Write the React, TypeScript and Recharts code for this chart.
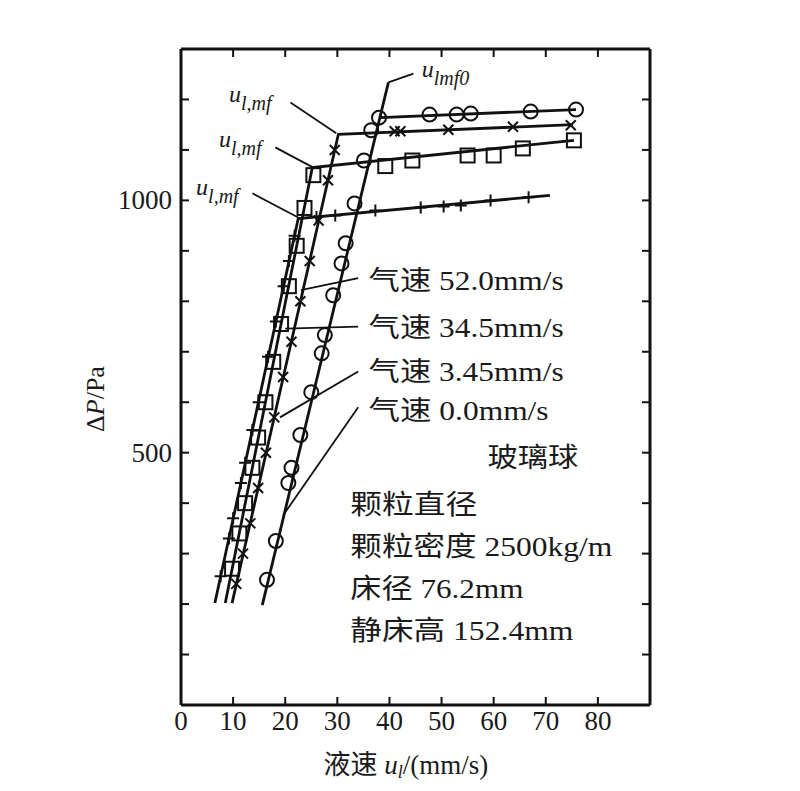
import { ComposedChart, Line, Scatter, XAxis, YAxis, ReferenceLine } from 'recharts';

const FONT = '"Liberation Serif", "Noto Sans CJK SC", serif';
const INK = '#111';

// axes: liquid velocity u_l (mm/s) vs bed pressure drop ΔP (Pa)
const xTicks = [0, 10, 20, 30, 40, 50, 60, 70, 80, 90];
const xTickLabels = ['0', '10', '20', '30', '40', '50', '60', '70', '80', ''];
const yTicks = [0, 100, 200, 300, 400, 500, 600, 700, 800, 900, 1000, 1100, 1200, 1300];
const yTickLabels = ['', '', '', '', '', '500', '', '', '', '', '1000', '', '', ''];

// fitted lines, one per gas velocity
const lineGas52 = [{ x: 6.5, y: 202 }, { x: 22.5, y: 964 }, { x: 70.8, y: 1010 }];
const lineGas34 = [{ x: 8.5, y: 202 }, { x: 25.2, y: 1065 }, { x: 75.4, y: 1119 }];
const lineGas3 = [{ x: 9.8, y: 202 }, { x: 30.2, y: 1131 }, { x: 75.2, y: 1150 }];
const lineGas0Packed = [{ x: 15.6, y: 198 }, { x: 39.8, y: 1234 }];
const lineGas0Fluid = [{ x: 38.2, y: 1164 }, { x: 75.8, y: 1180 }];

// measured points
const ptsGas52 = [
  { x: 7.6, y: 255 }, { x: 9.2, y: 330 }, { x: 10.0, y: 370 }, { x: 11.5, y: 440 },
  { x: 12.3, y: 480 }, { x: 13.7, y: 545 }, { x: 14.9, y: 600 }, { x: 16.7, y: 690 },
  { x: 18.2, y: 760 }, { x: 19.7, y: 830 }, { x: 20.7, y: 880 }, { x: 21.8, y: 930 },
  { x: 26.0, y: 967 }, { x: 29.6, y: 970 }, { x: 37.3, y: 980 }, { x: 46.0, y: 986 },
  { x: 50.4, y: 988 }, { x: 53.7, y: 990 }, { x: 59.4, y: 1000 }, { x: 66.7, y: 1006 },
];
const ptsGas34 = [
  { x: 9.8, y: 270 }, { x: 11.2, y: 340 }, { x: 12.3, y: 400 }, { x: 13.7, y: 470 },
  { x: 14.8, y: 530 }, { x: 16.2, y: 600 }, { x: 17.7, y: 680 }, { x: 19.2, y: 755 },
  { x: 20.7, y: 830 }, { x: 22.2, y: 910 }, { x: 23.7, y: 985 }, { x: 25.4, y: 1050 },
  { x: 39.2, y: 1068 }, { x: 44.4, y: 1079 }, { x: 55.0, y: 1089 }, { x: 60.0, y: 1089 },
  { x: 65.6, y: 1103 }, { x: 75.4, y: 1119 },
];
const ptsGas3 = [
  { x: 10.6, y: 240 }, { x: 11.9, y: 300 }, { x: 13.3, y: 360 }, { x: 14.8, y: 430 },
  { x: 16.3, y: 500 }, { x: 17.9, y: 570 }, { x: 19.6, y: 650 }, { x: 21.2, y: 720 },
  { x: 22.9, y: 800 }, { x: 24.7, y: 880 }, { x: 26.4, y: 960 }, { x: 28.2, y: 1040 },
  { x: 29.5, y: 1100 }, { x: 41.0, y: 1137 }, { x: 42.1, y: 1137 }, { x: 51.3, y: 1140 },
  { x: 63.7, y: 1146 }, { x: 74.8, y: 1149 },
];
const ptsGas0 = [
  { x: 16.5, y: 248 }, { x: 18.2, y: 325 }, { x: 20.6, y: 440 }, { x: 21.2, y: 470 },
  { x: 22.9, y: 535 }, { x: 25.0, y: 620 }, { x: 27.0, y: 697 }, { x: 27.6, y: 733 },
  { x: 29.2, y: 812 }, { x: 30.8, y: 875 }, { x: 31.6, y: 915 }, { x: 33.3, y: 994 },
  { x: 35.1, y: 1079 }, { x: 36.5, y: 1139 }, { x: 38.0, y: 1164 }, { x: 47.7, y: 1170 },
  { x: 52.9, y: 1170 }, { x: 55.6, y: 1172 }, { x: 67.1, y: 1176 }, { x: 75.8, y: 1180 },
];

// leader lines for the annotations
const leaders = [
  [{ x: 21.0, y: 1194 }, { x: 29.8, y: 1133 }],
  [{ x: 18.1, y: 1105 }, { x: 25.4, y: 1065 }],
  [{ x: 13.7, y: 1014 }, { x: 22.5, y: 966 }],
  [{ x: 44.6, y: 1251 }, { x: 39.8, y: 1234 }],
  [{ x: 34.0, y: 846 }, { x: 23.0, y: 822 }],
  [{ x: 34.0, y: 750 }, { x: 20.0, y: 746 }],
  [{ x: 34.0, y: 661 }, { x: 19.0, y: 570 }],
  [{ x: 34.0, y: 590 }, { x: 19.6, y: 376 }],
];

const mfSubs = ['l,mf', 'l,mf', 'l,mf', 'lmf0'];
const mfX = [9.2, 7.3, 2.9, 46.2];
const mfY = [1194, 1105, 1010, 1244];

const noteText = [
  '气速 52.0mm/s', '气速 34.5mm/s', '气速 3.45mm/s', '气速 0.0mm/s', '玻璃球',
  '颗粒直径', '颗粒密度 2500kg/m', '床径 76.2mm', '静床高 152.4mm',
];
const noteX = [36.0, 36.0, 36.0, 36.0, 58.8, 32.5, 32.5, 32.5, 32.5];
const noteY = [840, 748, 659, 582, 489, 396, 313, 230, 147];
const noteWidth = [195, 195, 195, 180, 91, 127, 262, 173, 223];

const notes = noteText.map((text, i) => ({ x: noteX[i], y: noteY[i], text, w: noteWidth[i] }));
const mfLabels = mfSubs.map((sub, i) => ({ x: mfX[i], y: mfY[i], sub }));

function Circle(p: any) {
  return <circle cx={p.cx} cy={p.cy} r={7} fill="none" stroke={INK} strokeWidth={2} />;
}
function Square(p: any) {
  return <rect x={p.cx - 7} y={p.cy - 7} width={14} height={14} fill="none" stroke={INK} strokeWidth={2} />;
}
function Plus(p: any) {
  return (
    <path d={`M${p.cx - 6},${p.cy}H${p.cx + 6}M${p.cx},${p.cy - 6}V${p.cy + 6}`} stroke={INK} strokeWidth={2} />
  );
}
function Cross(p: any) {
  return (
    <path
      d={`M${p.cx - 5},${p.cy - 5}L${p.cx + 5},${p.cy + 5}M${p.cx - 5},${p.cy + 5}L${p.cx + 5},${p.cy - 5}`}
      stroke={INK}
      strokeWidth={2}
    />
  );
}

function NoteText(p: any) {
  return (
    <text
      x={p.cx}
      y={p.cy}
      dominantBaseline="central"
      fontFamily={FONT}
      fontSize={27}
      fill="#1a1a1a"
      textLength={p.payload.w}
      lengthAdjust="spacingAndGlyphs"
    >
      {p.payload.text}
    </text>
  );
}

function MfText(p: any) {
  return (
    <text x={p.cx} y={p.cy} fontFamily={FONT} fontSize={24} fontStyle="italic" fill="#1a1a1a">
      u
      <tspan dy={8} fontSize={20}>{p.payload.sub}</tspan>
    </text>
  );
}

function BottomTick(p: any) {
  const label = xTickLabels[xTicks.indexOf(p.payload.value)];
  return (
    <g>
      <line x1={p.x} y1={p.y} x2={p.x} y2={p.y - 8} stroke={INK} strokeWidth={2} />
      <text x={p.x} y={p.y + 16} textAnchor="middle" dominantBaseline="central" fontFamily={FONT} fontSize={27} fill="#1a1a1a">
        {label}
      </text>
    </g>
  );
}
function TopTick(p: any) {
  return <line x1={p.x} y1={p.y} x2={p.x} y2={p.y + 8} stroke={INK} strokeWidth={2} />;
}
function LeftTick(p: any) {
  const label = yTickLabels[yTicks.indexOf(p.payload.value)];
  return (
    <g>
      <line x1={p.x} y1={p.y} x2={p.x + 8} y2={p.y} stroke={INK} strokeWidth={2} />
      <text x={p.x - 9} y={p.y} textAnchor="end" dominantBaseline="central" fontFamily={FONT} fontSize={27} fill="#1a1a1a">
        {label}
      </text>
    </g>
  );
}
function RightTick(p: any) {
  return <line x1={p.x} y1={p.y} x2={p.x - 8} y2={p.y} stroke={INK} strokeWidth={2} />;
}

function YTitle(p: any) {
  const vb = p.viewBox || { x: 0, y: 41, width: 173, height: 656 };
  const cx = vb.x + vb.width - 86;
  const cy = vb.y + vb.height / 2 + 22;
  return (
    <text
      x={cx}
      y={cy}
      transform={`rotate(-90 ${cx} ${cy})`}
      textAnchor="middle"
      dominantBaseline="central"
      fontFamily={FONT}
      fontSize={26}
      fill="#1a1a1a"
    >
      Δ<tspan fontStyle="italic">P</tspan>/Pa
    </text>
  );
}

function XTitle(p: any) {
  const vb = p.viewBox || { x: 173, y: 697, width: 469, height: 78 };
  const left = vb.x + vb.width / 2 - 92;
  const cy = vb.y + 60;
  return (
    <text x={left} y={cy} dominantBaseline="central" fontFamily={FONT} fontSize={27} fill="#1a1a1a">
      液速 <tspan fontStyle="italic">u</tspan>
      <tspan dy={7} fontSize={18} fontStyle="italic">l</tspan>
      <tspan dy={-7}>/(mm/s)</tspan>
    </text>
  );
}

const axisLine = { stroke: INK, strokeWidth: 3 };

export default function App() {
  return (
    <div style={{ width: 784, height: 775, background: '#fff' }}>
      <ComposedChart width={784} height={775} margin={{ top: 0, right: 0, bottom: 0, left: 0 }}>
        <XAxis
          type="number"
          dataKey="x"
          domain={[0, 90]}
          ticks={xTicks}
          interval={0}
          allowDataOverflow
          height={78}
          tickSize={0}
          tickMargin={0}
          tickLine={false}
          axisLine={axisLine}
          tick={<BottomTick />}
          label={XTitle}
        />
        <XAxis
          xAxisId="top"
          orientation="top"
          type="number"
          dataKey="x"
          domain={[0, 90]}
          ticks={xTicks}
          interval={0}
          allowDataOverflow
          height={41}
          tickSize={0}
          tickMargin={0}
          tickLine={false}
          axisLine={axisLine}
          tick={<TopTick />}
        />
        <YAxis
          type="number"
          dataKey="y"
          domain={[0, 1300]}
          ticks={yTicks}
          interval={0}
          allowDataOverflow
          width={173}
          tickSize={0}
          tickMargin={0}
          tickLine={false}
          axisLine={axisLine}
          tick={<LeftTick />}
          label={YTitle}
        />
        <YAxis
          yAxisId="right"
          orientation="right"
          type="number"
          dataKey="y"
          domain={[0, 1300]}
          ticks={yTicks}
          interval={0}
          allowDataOverflow
          width={142}
          tickSize={0}
          tickMargin={0}
          tickLine={false}
          axisLine={axisLine}
          tick={<RightTick />}
        />

        {leaders.map((seg, i) => (
          <ReferenceLine key={i} segment={seg} stroke={INK} strokeWidth={1.8} ifOverflow="visible" />
        ))}

        <Line data={lineGas52} dataKey="y" stroke={INK} strokeWidth={2.8} dot={false} activeDot={false} isAnimationActive={false} />
        <Line data={lineGas34} dataKey="y" stroke={INK} strokeWidth={2.8} dot={false} activeDot={false} isAnimationActive={false} />
        <Line data={lineGas3} dataKey="y" stroke={INK} strokeWidth={2.8} dot={false} activeDot={false} isAnimationActive={false} />
        <Line data={lineGas0Packed} dataKey="y" stroke={INK} strokeWidth={2.8} dot={false} activeDot={false} isAnimationActive={false} />
        <Line data={lineGas0Fluid} dataKey="y" stroke={INK} strokeWidth={2.8} dot={false} activeDot={false} isAnimationActive={false} />

        <Scatter data={ptsGas52} shape={Plus} isAnimationActive={false} />
        <Scatter data={ptsGas34} shape={Square} isAnimationActive={false} />
        <Scatter data={ptsGas3} shape={Cross} isAnimationActive={false} />
        <Scatter data={ptsGas0} shape={Circle} isAnimationActive={false} />

        <Scatter data={notes} shape={NoteText} isAnimationActive={false} />
        <Scatter data={mfLabels} shape={MfText} isAnimationActive={false} />
      </ComposedChart>
    </div>
  );
}
